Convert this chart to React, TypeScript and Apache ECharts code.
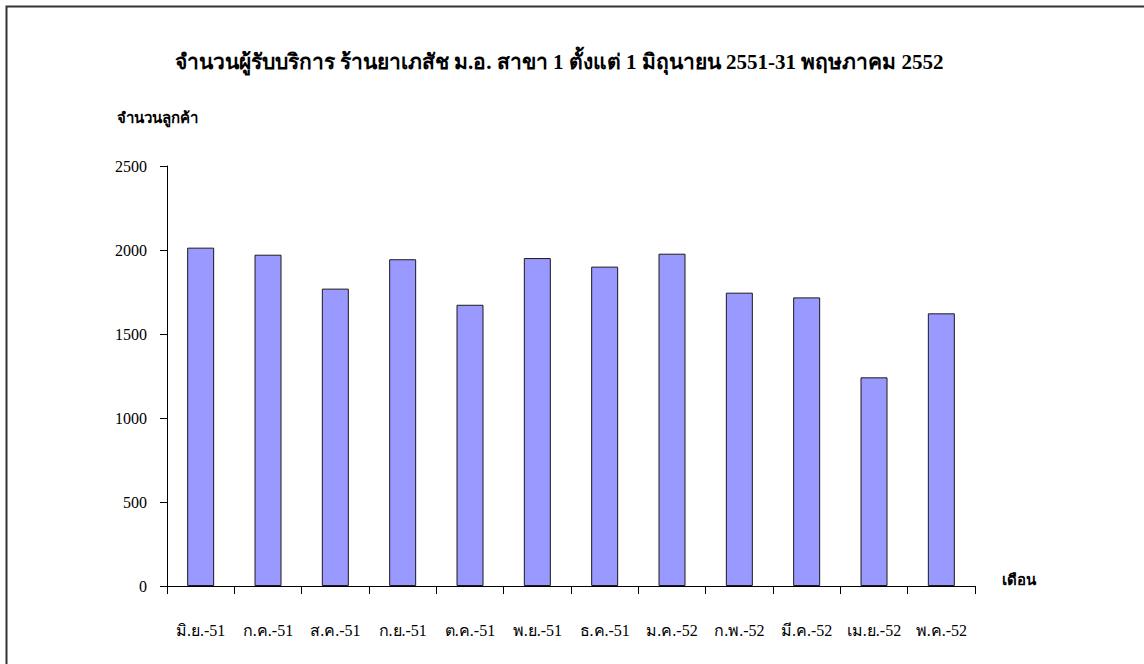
import React, { useEffect, useRef } from "react";
import * as echarts from "echarts";

const TITLE = "จำนวนผู้รับบริการ ร้านยาเภสัช ม.อ. สาขา 1 ตั้งแต่ 1 มิถุนายน 2551-31 พฤษภาคม 2552";
const Y_NAME = "จำนวนลูกค้า";
const X_NAME = "เดือน";
const months = [
  "มิ.ย.-51", "ก.ค.-51", "ส.ค.-51", "ก.ย.-51", "ต.ค.-51", "พ.ย.-51",
  "ธ.ค.-51", "ม.ค.-52", "ก.พ.-52", "มี.ค.-52", "เม.ย.-52", "พ.ค.-52",
];
const customers = [2014, 1972, 1770, 1945, 1674, 1952, 1901, 1978, 1746, 1718, 1242, 1623];
const yTicks = [0, 500, 1000, 1500, 2000, 2500];

const FONT = "'Liberation Serif', 'Times New Roman', serif";

export default function App() {
  const ref = useRef<HTMLDivElement>(null);
  useEffect(() => {
    if (!ref.current) return;
    const chart = echarts.init(ref.current, null, { renderer: "svg" });
    chart.setOption({
      animation: false,
      backgroundColor: "#ffffff",
      textStyle: { fontFamily: FONT, color: "#000" },
      title: {
        text: TITLE,
        left: 554,
        top: 46,
        textAlign: "center",
        textStyle: { fontFamily: FONT, fontWeight: "bold", fontSize: 21, color: "#000" },
      },
      graphic: [
        {
          type: "rect",
          shape: { x: 6.5, y: 6.5, width: 1300, height: 800 },
          style: { fill: "none", stroke: "#333", lineWidth: 2 },
          silent: true,
        },
        {
          type: "text",
          left: 117,
          top: 110,
          style: { text: Y_NAME, font: "bold 15px " + FONT, fill: "#000" },
        },
        {
          type: "text",
          left: 1002,
          top: 572,
          style: { text: X_NAME, font: "bold 15px " + FONT, fill: "#000" },
        },
      ],
      grid: { left: 167, right: 169, top: 166, bottom: 78, containLabel: false },
      xAxis: {
        type: "category",
        data: months,
        boundaryGap: true,
        axisLine: { show: true, lineStyle: { color: "#000", width: 1 } },
        axisTick: { show: true, length: 8, lineStyle: { color: "#000" } },
        axisLabel: { margin: 36, fontSize: 16, fontFamily: FONT, color: "#000", interval: 0 },
        splitLine: { show: false },
      },
      yAxis: {
        type: "value",
        min: yTicks[0],
        max: yTicks[yTicks.length - 1],
        interval: 500,
        axisLine: { show: true, lineStyle: { color: "#000", width: 1 } },
        axisTick: { show: true, length: 7, lineStyle: { color: "#000" } },
        axisLabel: {
          margin: 20,
          fontSize: 16,
          fontFamily: FONT,
          color: "#000",
          formatter: (v: number) => String(v),
        },
        splitLine: { show: false },
      },
      series: [
        {
          type: "bar",
          data: customers,
          barWidth: 27,
          itemStyle: { color: "#9999FF", borderColor: "#1a1a1a", borderWidth: 1 },
        },
      ],
    });
    return () => chart.dispose();
  }, []);
  return (
    <div
      ref={ref}
      style={{ position: "fixed", left: 0, top: 0, width: 1144, height: 664 }}
    />
  );
}
